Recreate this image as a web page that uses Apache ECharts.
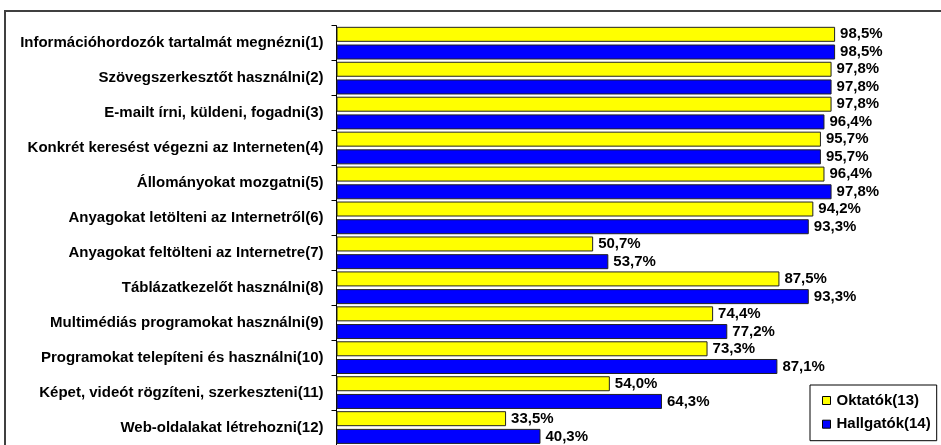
<!DOCTYPE html>
<html>
<head>
<meta charset="utf-8">
<script src="https://cdn.jsdelivr.net/npm/echarts@6/dist/echarts.min.js"></script>
<style>
html,body{margin:0;padding:0;background:#fff;}
#chart{width:941px;height:445px;}
</style>
</head>
<body>
<div id="chart"></div>
<script>
const categories = [
  'Információhordozók tartalmát megnézni(1)',
  'Szövegszerkesztőt használni(2)',
  'E-mailt írni, küldeni, fogadni(3)',
  'Konkrét keresést végezni az Interneten(4)',
  'Állományokat mozgatni(5)',
  'Anyagokat letölteni az Internetről(6)',
  'Anyagokat feltölteni az Internetre(7)',
  'Táblázatkezelőt használni(8)',
  'Multimédiás programokat használni(9)',
  'Programokat telepíteni és használni(10)',
  'Képet, videót rögzíteni, szerkeszteni(11)',
  'Web-oldalakat létrehozni(12)'
];
const oktatok = [98.5, 97.8, 97.8, 95.7, 96.4, 94.2, 50.7, 87.5, 74.4, 73.3, 54.0, 33.5];
const hallgatok = [98.5, 97.8, 96.4, 95.7, 97.8, 93.3, 53.7, 93.3, 77.2, 87.1, 64.3, 40.3];
const seriesNames = ['Oktatók(13)', 'Hallgatók(14)'];

const FONT = '"Liberation Sans", Arial, sans-serif';
const chart = echarts.init(document.getElementById('chart'), null, {renderer: 'canvas'});

const labelCfg = {
  show: true,
  position: 'right',
  distance: 5,
  color: '#000',
  fontFamily: FONT,
  fontWeight: 'bold',
  fontSize: 15,
  formatter: p => p.value.toFixed(1).replace('.', ',') + '%'
};

chart.setOption({
  animation: false,
  backgroundColor: '#fff',
  graphic: [{
    type: 'rect',
    silent: true,
    z: -1,
    shape: {x: 5, y: 11, width: 1200, height: 1000},
    style: {fill: 'none', stroke: '#404040', lineWidth: 2}
  }],
  grid: {left: 336.5, right: 98.3, top: 25.7, bottom: -6.7, containLabel: false},
  legend: {
    orient: 'vertical',
    left: 810,
    top: 385,
    padding: [8, 6, 9, 12],
    itemGap: 8.7,
    itemWidth: 8,
    itemHeight: 8,
    borderColor: '#000',
    borderWidth: 1,
    backgroundColor: '#fff',
    icon: 'rect',
    textStyle: {fontFamily: FONT, fontWeight: 'bold', fontSize: 15, color: '#000', lineHeight: 15, padding: [0, 0, 0, 1]},
    itemStyle: {borderColor: '#000', borderWidth: 1},
    data: seriesNames
  },
  xAxis: {
    type: 'value',
    min: 0,
    max: 100,
    show: false,
    splitLine: {show: false}
  },
  yAxis: {
    type: 'category',
    inverse: true,
    data: categories,
    axisLine: {show: true, lineStyle: {color: '#000', width: 1}},
    axisTick: {show: true, length: 5, lineStyle: {color: '#000'}},
    axisLabel: {
      margin: 13,
      color: '#000',
      fontFamily: FONT,
      fontWeight: 'bold',
      fontSize: 15
    }
  },
  series: [{
    name: seriesNames[0],
    type: 'bar',
    data: oktatok,
    barWidth: 15,
    barGap: '18%',
    itemStyle: {color: '#FFFF00', borderColor: '#222', borderWidth: 1},
    label: labelCfg
  }, {
    name: seriesNames[1],
    type: 'bar',
    data: hallgatok,
    barWidth: 15,
    barGap: '18%',
    itemStyle: {color: '#0000FF', borderColor: '#222', borderWidth: 1},
    label: labelCfg
  }]
});
</script>
</body>
</html>
